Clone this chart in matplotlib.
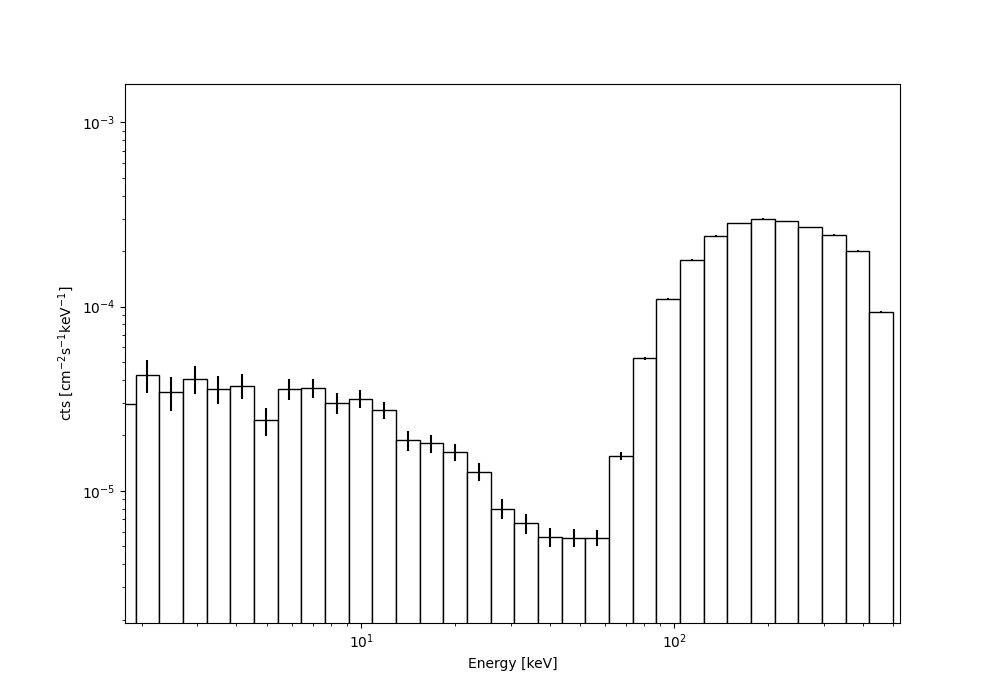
import numpy as np
import matplotlib
matplotlib.use('Agg')
import matplotlib.pyplot as plt

# energy binning (keV), log-spaced
e_min = 1.6
e_max = 500.0
n_bins = 33
edges = np.logspace(np.log10(e_min), np.log10(e_max), n_bins + 1)

# flux per bin, cts / cm^2 / s / keV
flux = [2.97e-5, 4.27e-5, 3.44e-5, 4.06e-5, 3.58e-5, 3.72e-5, 2.41e-5,
        3.58e-5, 3.63e-5, 3.00e-5, 3.16e-5, 2.74e-5, 1.88e-5, 1.81e-5,
        1.63e-5, 1.27e-5, 8.0e-6, 6.68e-6, 5.64e-6, 5.58e-6, 5.58e-6,
        1.55e-5, 5.23e-5, 1.105e-4, 1.792e-4, 2.426e-4, 2.843e-4,
        2.99e-4, 2.914e-4, 2.705e-4, 2.457e-4, 2.012e-4, 9.36e-5]
flux_err = [8.0e-6, 8.6e-6, 7.2e-6, 7.2e-6, 6.2e-6, 5.7e-6, 4.2e-6,
            4.6e-6, 4.4e-6, 3.8e-6, 3.6e-6, 3.0e-6, 2.25e-6, 1.95e-6,
            1.75e-6, 1.4e-6, 1.0e-6, 8.3e-7, 6.9e-7, 6.2e-7, 5.7e-7,
            7.6e-7, 1.1e-6, 1.3e-6, 1.6e-6, 1.8e-6, 1.5e-6,
            2.0e-6, 1.5e-6, 1.4e-6, 1.5e-6, 1.8e-6, 1.0e-6]

flux = np.array(flux)
flux_err = np.array(flux_err)
centers = np.sqrt(edges[:-1] * edges[1:])

fig, ax = plt.subplots(figsize=(10, 7), dpi=100)
ax.bar(edges[:-1], flux, width=np.diff(edges), align='edge',
       color='white', edgecolor='black', linewidth=1.0)
ax.errorbar(centers, flux, yerr=flux_err, fmt='none', ecolor='black')

ax.set_xscale('log')
ax.set_yscale('log')
ax.set_xlim(1.762, 526)
ax.set_ylim(1.92e-6, 1.613e-3)
ax.set_xlabel('Energy [keV]')
ax.set_ylabel('cts [cm$^{-2}$s$^{-1}$keV$^{-1}$]')

fig.savefig('out.png')
